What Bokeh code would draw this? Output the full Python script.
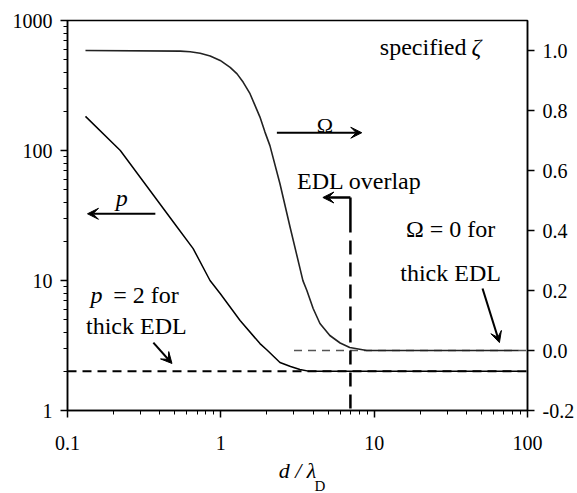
from bokeh.plotting import figure
from bokeh.models import (Range1d, LinearAxis, LinearScale, FixedTicker, CustomJSTickFormatter,
                          NumeralTickFormatter, Label, Arrow, VeeHead, Title)
from bokeh.embed import file_html
from bokeh.resources import INLINE

# ---- data ----
p_ratio = [0.131, 0.221, 0.527, 0.66, 0.85, 0.99, 1.335, 1.80, 2.0, 2.43, 2.85, 3.28, 3.8, 10, 30, 87]
p_values = [183, 100, 25.1, 17.6, 10, 7.94, 4.92, 3.27, 2.92, 2.34, 2.18, 2.07, 2.0, 2.0, 2.0, 2.0]

omega_ratio = [0.131, 0.544, 0.631, 0.733, 0.852, 0.99, 1.15, 1.276, 1.40, 1.55, 1.67, 1.80, 1.94,
               2.09, 2.43, 2.83, 3.43, 3.64, 4.0, 4.43, 5.14, 6.0, 6.93, 8.95, 30, 87]
omega_values = [1.0, 0.998, 0.996, 0.991, 0.982, 0.967, 0.944, 0.922, 0.894, 0.856, 0.817, 0.778,
                0.728, 0.683, 0.556, 0.411, 0.233, 0.2, 0.14, 0.09, 0.05, 0.025, 0.01, 0.0, 0.0, 0.0]

p_thick = 2.0          # p = 2 for thick EDL
omega_thick = 0.0      # Omega = 0 for thick EDL
omega_thick_start = 3.0
overlap_ratio = 7.0    # EDL overlap marker

x_ticks = [0.1, 1, 10, 100]
x_minor = [m * d for d in (0.1, 1, 10) for m in range(2, 10)]
y_ticks = [1, 10, 100, 1000]
y_minor = [m * d for d in (1, 10, 100) for m in range(2, 10)]
omega_ticks = [-0.2, 0.0, 0.2, 0.4, 0.6, 0.8, 1.0]

FONT = "Liberation Serif"

p = figure(width=577, height=493, x_axis_type="log", y_axis_type="log",
           x_range=Range1d(0.1, 100), y_range=Range1d(1, 1000),
           output_backend="svg", toolbar_location=None,
           min_border_left=67, min_border_right=49, min_border_top=20, min_border_bottom=83)
p.extra_y_ranges = {"omega": Range1d(-0.2, 1.1)}
p.extra_y_scales = {"omega": LinearScale()}
p.grid.visible = False
p.outline_line_color = "black"
p.outline_line_width = 1.5
p.background_fill_color = "white"
p.border_fill_color = "white"

fmt = CustomJSTickFormatter(code="return String(tick);")

p.xaxis.ticker = FixedTicker(ticks=x_ticks, minor_ticks=x_minor)
p.xaxis.formatter = fmt
p.yaxis.ticker = FixedTicker(ticks=y_ticks, minor_ticks=y_minor)
p.yaxis.formatter = fmt

right = LinearAxis(y_range_name="omega",
                   ticker=FixedTicker(ticks=omega_ticks),
                   formatter=NumeralTickFormatter(format="0.0"))
p.add_layout(right, "right")

for ax in [p.xaxis[0], p.yaxis[0], right]:
    ax.axis_line_color = "black"
    ax.axis_line_width = 1.5
    ax.major_tick_line_color = "black"
    ax.major_tick_line_width = 1.5
    ax.major_tick_in = 0
    ax.major_tick_out = 7
    ax.minor_tick_line_color = "black"
    ax.minor_tick_line_width = 1
    ax.minor_tick_in = 0
    ax.minor_tick_out = 4
    ax.major_label_text_font = FONT
    ax.major_label_text_font_size = "20px"
    ax.major_label_text_color = "black"
right.minor_tick_line_color = None
right.major_label_standoff = 8
p.xaxis.major_label_standoff = 18
p.yaxis.major_label_standoff = 8

# x axis label: d / lambda with subscript D
p.xaxis.axis_label = "d / λ"
p.xaxis.axis_label_text_font = FONT
p.xaxis.axis_label_text_font_size = "22px"
p.xaxis.axis_label_text_font_style = "italic"
p.xaxis.axis_label_text_color = "black"
p.xaxis.axis_label_standoff = 5
sub = Title(text="D", align="left", offset=247, standoff=-19,
            text_font=FONT, text_font_size="15px", text_font_style="normal",
            text_color="black", vertical_align="middle")
p.add_layout(sub, "below")

# reference lines
p.line([0.1, 100], [p_thick, p_thick], line_color="black", line_width=2, line_dash="9 6")
p.line([omega_thick_start, 100], [omega_thick, omega_thick], y_range_name="omega",
       line_color="#555555", line_width=1.5, line_dash="8 6")
p.line([overlap_ratio, overlap_ratio], [23.4, 1], line_color="black", line_width=2.5,
       line_dash="14 8", line_dash_offset=14)
p.line([overlap_ratio, overlap_ratio], [23.4, 43.5], line_color="black", line_width=2.5)

# curves
p.line(p_ratio, p_values, line_color="black", line_width=1.5)
p.line(omega_ratio, omega_values, y_range_name="omega", line_color="#222222", line_width=1.6)

# arrows
def arrow(x0, y0, x1, y1, w=2):
    p.add_layout(Arrow(end=VeeHead(size=11, fill_color="black", line_color="black", line_width=1),
                       x_start=x0, y_start=y0, x_end=x1, y_end=y1,
                       line_color="black", line_width=w))

arrow(2.32, 137, 8.3, 137)
arrow(0.374, 32.6, 0.135, 32.6)
arrow(0.363, 3.33, 0.48, 2.3)
arrow(50.9, 8.67, 65.6, 3.33)
arrow(overlap_ratio, 43.5, 4.63, 43.5, w=2.5)

# texts
def label(x, y, s, size="24px", style="normal", align="left", baseline="middle"):
    p.add_layout(Label(x=x, y=y, text=s, text_font=FONT, text_font_size=size,
                       text_font_style=style, text_align=align, text_baseline=baseline,
                       text_color="black"))

label(40.0, 620, "specified", align="right")
label(43.2, 620, "ζ", style="italic")
label(4.77, 155.6, "Ω", size="22px", align="center", baseline="alphabetic")
label(0.226, 42.8, "p", style="italic", align="center", baseline="alphabetic")
label(3.14, 57.8, "EDL overlap")
label(31.5, 24.7, "Ω = 0 for", align="center")
label(31.5, 11.5, "thick EDL", align="center")
label(0.141, 7.67, "p", style="italic")
label(0.199, 7.67, "= 2 for")
label(0.281, 4.5, "thick EDL", align="center")

open("out.html", "w").write(file_html(p, INLINE))
